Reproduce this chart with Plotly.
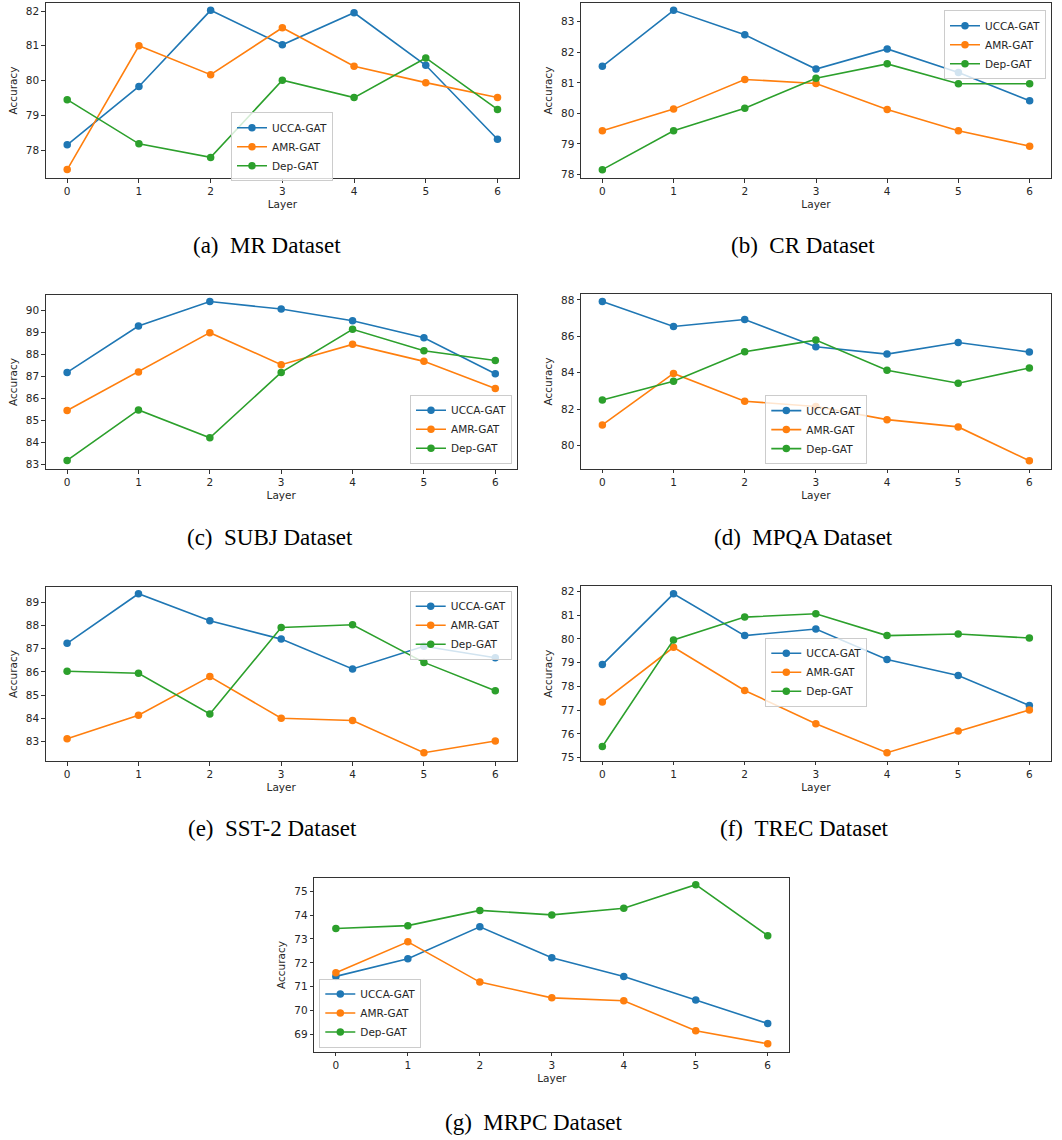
import plotly.graph_objects as go

layers = [0, 1, 2, 3, 4, 5, 6]
series_names = ["UCCA-GAT", "AMR-GAT", "Dep-GAT"]
colors = ["#1f77b4", "#ff7f0e", "#2ca02c"]

# (a) MR
mr_ucca = [78.15, 79.83, 82.02, 81.03, 81.95, 80.44, 78.31]
mr_amr = [77.44, 81.00, 80.17, 81.52, 80.41, 79.94, 79.51]
mr_dep = [79.45, 78.18, 77.79, 80.01, 79.51, 80.65, 79.17]
# (b) CR
cr_ucca = [81.54, 83.37, 82.57, 81.45, 82.11, 81.34, 80.41]
cr_amr = [79.43, 80.14, 81.11, 80.98, 80.13, 79.43, 78.93]
cr_dep = [78.16, 79.43, 80.17, 81.15, 81.62, 80.97, 80.97]
# (c) SUBJ
subj_ucca = [87.18, 89.28, 90.39, 90.05, 89.52, 88.75, 87.12]
subj_amr = [85.45, 87.20, 88.98, 87.53, 88.45, 87.68, 86.45]
subj_dep = [83.19, 85.48, 84.22, 87.18, 89.13, 88.16, 87.72]
# (d) MPQA
mpqa_ucca = [87.91, 86.54, 86.92, 85.42, 85.02, 85.66, 85.13]
mpqa_amr = [81.13, 83.96, 82.43, 82.14, 81.42, 81.02, 79.16]
mpqa_dep = [82.50, 83.53, 85.15, 85.79, 84.13, 83.42, 84.26]
# (e) SST-2
sst_ucca = [87.23, 89.36, 88.20, 87.41, 86.13, 87.10, 86.61]
sst_amr = [83.13, 84.14, 85.80, 84.01, 83.91, 82.53, 83.03]
sst_dep = [86.03, 85.94, 84.19, 87.91, 88.03, 86.41, 85.19]
# (f) TREC
trec_ucca = [78.92, 81.90, 80.14, 80.42, 79.13, 78.46, 77.20]
trec_amr = [77.34, 79.65, 77.83, 76.43, 75.21, 76.12, 77.01]
trec_dep = [75.47, 79.96, 80.92, 81.06, 80.14, 80.21, 80.04]
# (g) MRPC
mrpc_ucca = [71.43, 72.17, 73.51, 72.21, 71.43, 70.44, 69.45]
mrpc_amr = [71.58, 72.88, 71.19, 70.53, 70.41, 69.15, 68.60]
mrpc_dep = [73.44, 73.56, 74.20, 74.01, 74.29, 75.28, 73.14]

captions = ["(a)\u00a0\u00a0MR Dataset", "(b)\u00a0\u00a0CR Dataset", "(c)\u00a0\u00a0SUBJ Dataset",
            "(d)\u00a0\u00a0MPQA Dataset", "(e)\u00a0\u00a0SST-2 Dataset", "(f)\u00a0\u00a0TREC Dataset",
            "(g)\u00a0\u00a0MRPC Dataset"]

W, H = 1062, 1140

# leg: (x, y, xanchor, yanchor) in pixels
panels = [
    dict(data=[mr_ucca, mr_amr, mr_dep], box=(45.7, 519, 1.7, 177.7), yr=(77.19, 82.24), yt=[78, 79, 80, 81, 82],
         leg=(282, 146.2, "center", "middle"), cap=(267, 245)),
    dict(data=[cr_ucca, cr_amr, cr_dep], box=(581, 1051, 1.7, 177.7), yr=(77.88, 83.62), yt=[78, 79, 80, 81, 82, 83],
         leg=(1046, 9.3, "right", "top"), cap=(803, 245)),
    dict(data=[subj_ucca, subj_amr, subj_dep], box=(45.7, 516.7, 294.7, 469.3), yr=(82.80, 90.69), yt=list(range(83, 91)),
         leg=(512, 464, "right", "bottom"), cap=(270, 538)),
    dict(data=[mpqa_ucca, mpqa_amr, mpqa_dep], box=(581, 1050.7, 294, 469), yr=(78.72, 88.31), yt=[80, 82, 84, 86, 88],
         leg=(816.3, 464.3, "center", "bottom"), cap=(803, 538)),
    dict(data=[sst_ucca, sst_amr, sst_dep], box=(45.7, 516.7, 587.3, 762.3), yr=(82.16, 89.66), yt=list(range(83, 90)),
         leg=(511.7, 591.3, "right", "top"), cap=(272, 830)),
    dict(data=[trec_ucca, trec_amr, trec_dep], box=(581, 1050.7, 587, 762), yr=(74.86, 82.21), yt=list(range(75, 83)),
         leg=(816.3, 673, "center", "middle"), cap=(804, 830)),
    dict(data=[mrpc_ucca, mrpc_amr, mrpc_dep], box=(314.3, 789.3, 879.3, 1053.7), yr=(68.26, 75.56), yt=list(range(69, 76)),
         leg=(319.3, 1049.3, "left", "bottom"), cap=(534, 1124)),
]

fig = go.Figure()
layout = dict(width=W, height=H, margin=dict(l=0, r=0, t=0, b=0), paper_bgcolor="white",
              plot_bgcolor="white", showlegend=True, annotations=[])

tickfont = dict(family="DejaVu Sans", size=10.5, color="#262626")
axcommon = dict(showgrid=False, zeroline=False, showline=True, mirror=True, linecolor="#333333", linewidth=1,
                ticks="outside", ticklen=3.5, tickwidth=1, tickcolor="#333333", tickfont=tickfont)

for i, p in enumerate(panels):
    n = "" if i == 0 else str(i + 1)
    x0, x1, y0, y1 = p["box"]
    xa = dict(axcommon, domain=[x0 / W, x1 / W], range=[-0.3, 6.3], tickvals=layers,
              anchor="y" + n, title=dict(text="Layer", font=dict(family="DejaVu Sans", size=10.5, color="#262626"),
                                         standoff=4))
    ya = dict(axcommon, domain=[1 - y1 / H, 1 - y0 / H], range=list(p["yr"]), tickvals=p["yt"],
              anchor="x" + n, title=dict(text="Accuracy", font=dict(family="DejaVu Sans", size=10.5, color="#262626"),
                                         standoff=6))
    layout["xaxis" + n] = xa
    layout["yaxis" + n] = ya
    legname = "legend" if i == 0 else "legend" + str(i + 1)
    lx, ly, xanc, yanc = p["leg"]
    layout[legname] = dict(x=lx / W, y=1 - ly / H, xanchor=xanc, yanchor=yanc, xref="paper", yref="paper",
                           bgcolor="rgba(255,255,255,0.8)", bordercolor="#cccccc", borderwidth=1,
                           font=dict(family="DejaVu Sans", size=10.5, color="#262626"), itemwidth=30,
                           tracegroupgap=0)
    for s, (name, vals) in enumerate(zip(series_names, p["data"])):
        fig.add_trace(go.Scatter(x=layers, y=vals, mode="lines+markers", name=name,
                                 line=dict(color=colors[s], width=1.6),
                                 marker=dict(color=colors[s], size=7.5),
                                 xaxis="x" + n, yaxis="y" + n, legend=legname))
    cx, cy = p["cap"]
    layout["annotations"].append(dict(text=captions[i], x=cx / W, y=1 - cy / H, xref="paper", yref="paper",
                                      showarrow=False, xanchor="center", yanchor="middle",
                                      font=dict(family="Liberation Serif", size=23, color="black")))

fig.update_layout(**layout)
fig.write_html("out.html", config={"displayModeBar": False},
               post_script="document.body.style.margin='0';document.body.style.overflow='hidden';")
